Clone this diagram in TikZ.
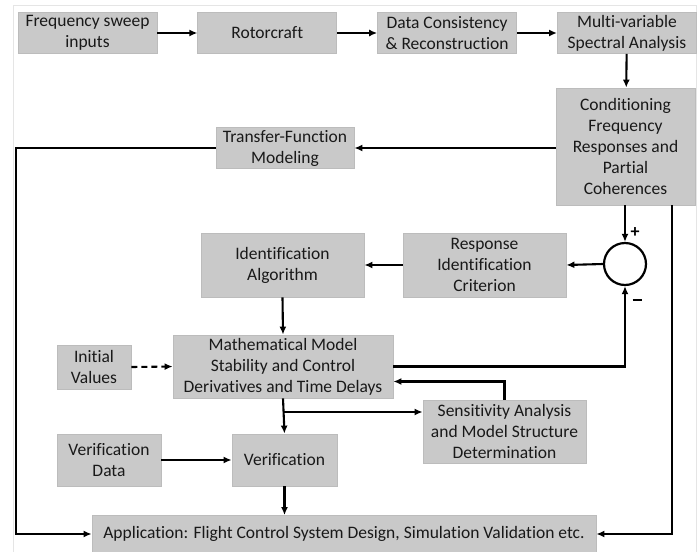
\documentclass[tikz,border=0pt]{standalone}
\usepackage{fontspec}
\setmainfont[Ligatures=NoCommon]{Carlito}
\usepackage{xcolor}
\usepackage{tikz}
\usetikzlibrary{arrows.meta,positioning,calc}

\definecolor{boxgray}{RGB}{201,201,201}
\definecolor{boxedge}{RGB}{188,188,188}
\definecolor{txtgray}{RGB}{25,25,25}

\begin{document}
\begin{tikzpicture}[
    x=1pt, y=-1pt,
    node distance=40pt,
    box/.style={rectangle, fill=boxgray, draw=boxedge, line width=0.8pt, align=center,
        inner sep=1pt, text=txtgray, font=\fontsize{17.5}{21}\selectfont},
    arrow/.style={-{Latex[length=8pt,width=7pt]}, line width=2.1pt},
    sign/.style={font=\fontsize{18}{18}\selectfont\bfseries}
]
    \useasboundingbox (0,0) rectangle (697,552);
    \draw[gray!20, line width=0.8pt] (13,5) rectangle (696.5,552);

    % top row
    \node[box, minimum width=139pt, minimum height=41pt] (sweep) at (87.5,33) {Frequency sweep\\inputs};
    \node[box, minimum width=139pt, minimum height=41pt, right=40pt of sweep] (rotor) {Rotorcraft};
    \node[box, minimum width=139pt, minimum height=41pt, right=40pt of rotor] (consist) {Data Consistency\\\& Reconstruction};
    \node[box, minimum width=139pt, minimum height=41pt, right=40pt of consist] (spectral) {Multi-variable\\Spectral Analysis};

    \node[box, minimum width=139pt, minimum height=117pt] (cond) at (625.5,146.5) {Conditioning\\Frequency\\Responses and\\Partial\\Coherences};
    \node[box, minimum width=138pt, minimum height=41pt] (tfmodel) at (285,148) {Transfer-Function\\Modeling};

    % identification loop
    \node[circle, draw, line width=2.2pt, minimum size=42pt, inner sep=0pt] (sum) at (625,264) {};
    \node[sign] (plus) at (635,233) {+};
    \node[sign] (minus) at (637,300) {\rule{9pt}{2.4pt}};
    \node[box, minimum width=163pt, minimum height=64pt] (criterion) at (484.5,265) {Response\\Identification\\Criterion};
    \node[box, minimum width=163pt, minimum height=64pt] (algo) at (282.5,265) {Identification\\Algorithm};
    \node[box, minimum width=220pt, minimum height=63pt] (model) at (283,366.5) {Mathematical Model\\Stability and Control\\Derivatives and Time Delays};
    \node[box, minimum width=74pt, minimum height=44pt] (initval) at (94,367) {Initial\\Values};
    \node[box, minimum width=163pt, minimum height=63pt] (sens) at (504.5,431.5) {Sensitivity Analysis\\and Model Structure\\Determination};

    % verification and application
    \node[box, minimum width=104pt, minimum height=52pt] (vdata) at (109,460) {Verification\\Data};
    \node[box, minimum width=105pt, minimum height=52pt] (verif) at (284.5,460) {Verification};
    \node[box, minimum width=504pt, minimum height=37pt] (app) at (344,534) {Application: Flight Control System Design, Simulation Validation etc.};

    \coordinate (lcorner) at (16,534);
    \coordinate (rcorner) at (672,534);
    \coordinate (split) at (283,412);

    \draw[arrow] (sweep) -- (rotor);
    \draw[arrow] (rotor) -- (consist);
    \draw[arrow] (consist) -- (spectral);
    \draw[arrow] (spectral) -- (cond);
    \draw[arrow] (cond.west |- tfmodel.east) -- (tfmodel.east);
    \draw[arrow] (tfmodel.west) -| (lcorner) -- (app.west);
    \draw[arrow] (cond.south -| rcorner) -- (rcorner) -- (app.east);
    \draw[arrow] (cond.south -| sum.north) -- (sum.north);
    \draw[arrow] (sum.west) -- (criterion.east);
    \draw[arrow] (criterion.west) -- (algo.east);
    \draw[arrow] (algo.south) -- (model.north);
    \draw[arrow, dash pattern=on 6pt off 4pt] (initval.east) -- (model.west);
    \draw[arrow] (model.east) -| (sum.south);
    \draw[arrow] (sens.north) |- ([yshift=-15pt]model.east);
    \draw[arrow] (model.south) -- (verif.north);
    \draw[arrow] (split) -- (split -| sens.west);
    \draw[arrow] (vdata.east) -- (verif.west);
    \draw[arrow] (verif.south) -- (app.north -| verif.south);
\end{tikzpicture}
\end{document}
